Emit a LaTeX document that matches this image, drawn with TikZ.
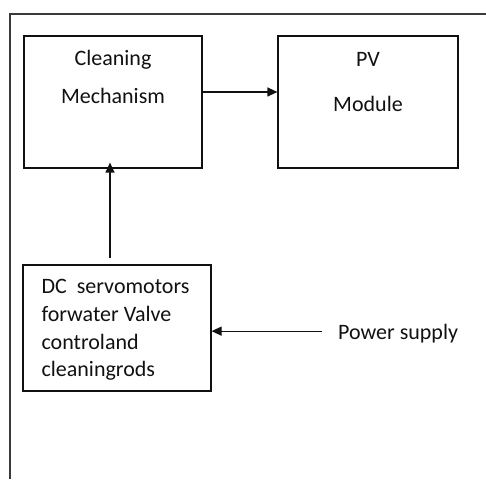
\documentclass[tikz,border=0pt]{standalone}
\usepackage{fontspec}
\setmainfont{Carlito}
\usepackage{tikz}
\usetikzlibrary{arrows.meta,positioning}
\definecolor{ink}{HTML}{111111}
\definecolor{frame}{HTML}{3A3A3A}

\begin{document}
\begin{tikzpicture}[x=1pt,y=1pt,
  blk/.style={draw=ink,line width=1.2pt,inner sep=0pt},
  lbl/.style={inner sep=0pt,text=ink,font=\fontsize{22}{27.6}\selectfont},
  arr/.style={draw=ink,line width=1.2pt,-{Triangle[length=10pt,width=9pt]}}]
  \useasboundingbox (0,0) rectangle (486,479);
  \draw[frame,line width=1.4pt] (486,465) -- (10,465) -- (10,0);
  % blocks
  \node[blk,minimum width=178pt,minimum height=132pt] (clean) at (113,377) {};
  \node[blk,minimum width=180pt,minimum height=132pt] (pv) at (368,377) {};
  \node[blk,minimum width=188pt,minimum height=126pt] (io) at (117,151) {};
  \node[lbl,align=center,below=15pt of clean.north] (cleantxt) {Cleaning\\[10.4pt]Mechanism};
  \node[lbl,align=center,below=17pt of pv.north] (pvtxt) {PV\\[17.4pt]Module};
  \node[lbl,align=left,anchor=north west] (iotxt) at ([xshift=19pt,yshift=-15pt]io.north west)
    {DC\ \ servomotors\\forwater Valve\\controland\\cleaningrods};
  \node[lbl,anchor=base west] (ps) at (338,140) {Power supply};
  % connectors
  \draw[arr] ([yshift=10pt]clean.east) -- ([yshift=10pt]pv.west);
  \draw[arr] ([xshift=-7pt,yshift=6pt]io.north) -- ([xshift=-7pt,yshift=6pt]io.north |- clean.south);
  \draw[arr,shorten <=16pt] ([yshift=2pt]ps.west) -- ([yshift=2pt]ps.west -| io.east);
\end{tikzpicture}
\end{document}
